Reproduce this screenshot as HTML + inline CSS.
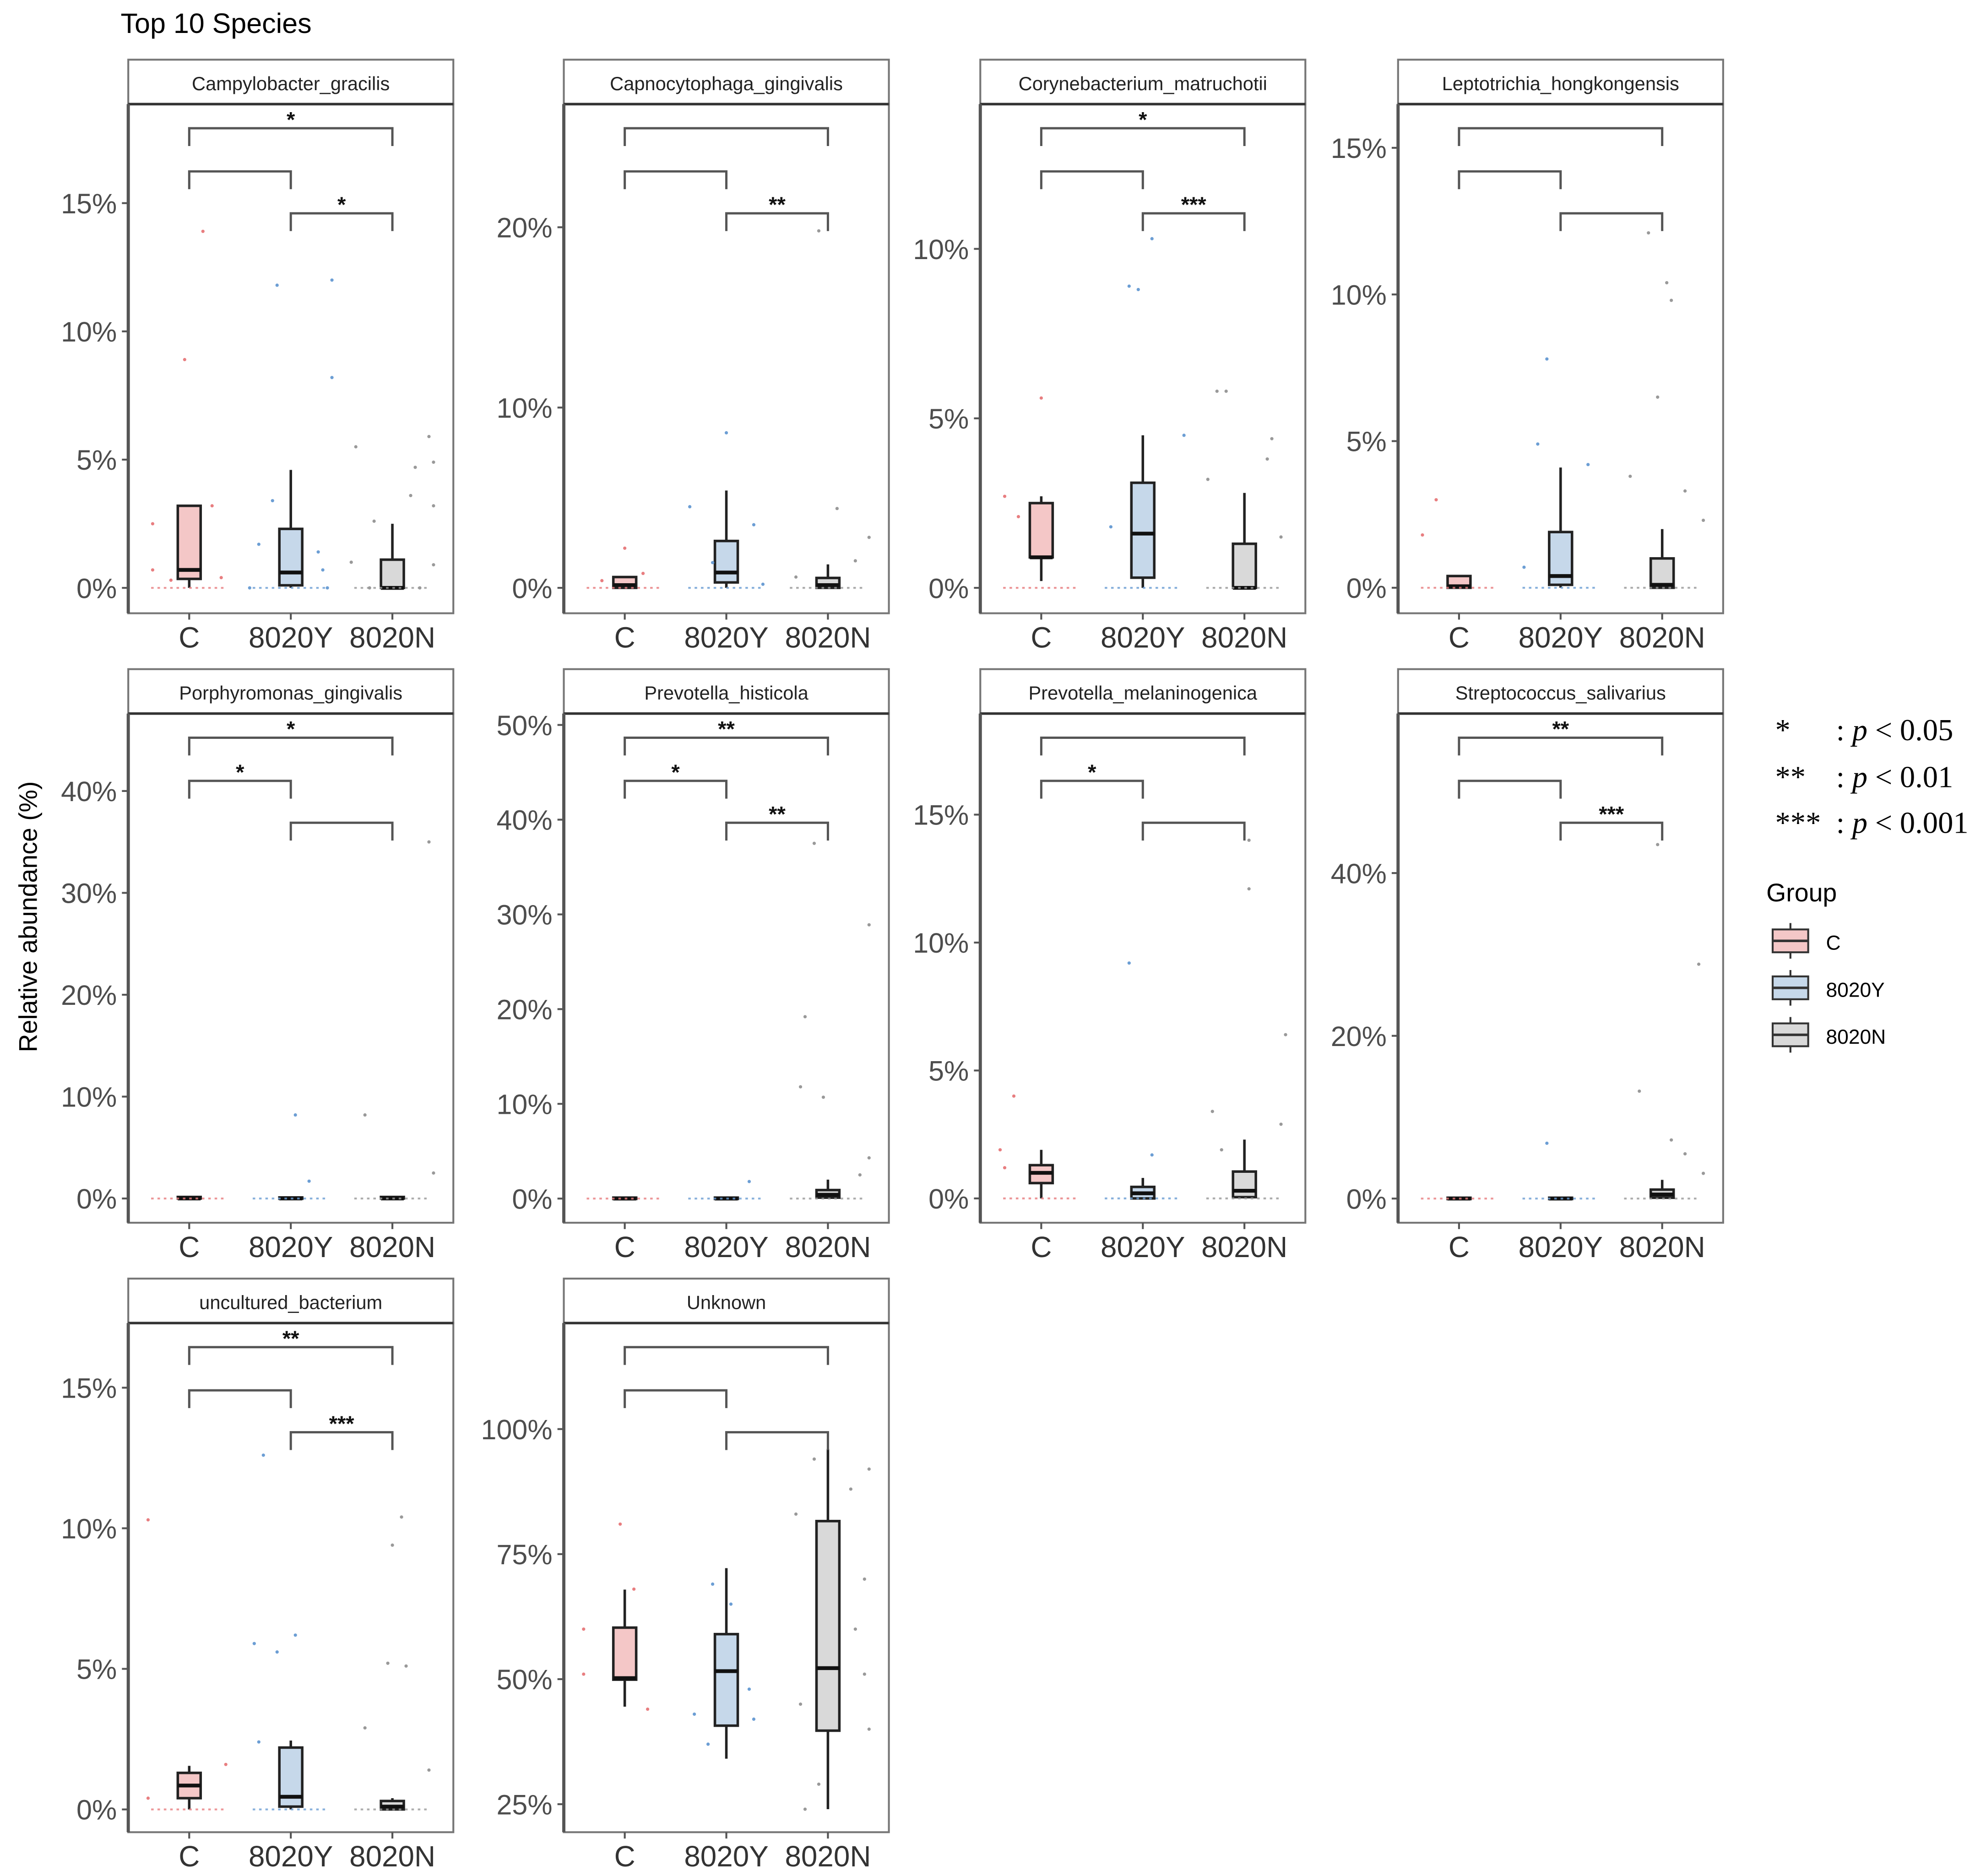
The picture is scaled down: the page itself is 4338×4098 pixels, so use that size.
<!DOCTYPE html>
<html><head><meta charset="utf-8"><style>
html,body{margin:0;padding:0;background:#fff;}
svg{display:block;}
.sans{font-family:"Liberation Sans",Arial,sans-serif;}
.serif{font-family:"Liberation Serif","Times New Roman",serif;}
</style></head><body>
<svg id="chart" class="sans" width="4338" height="4098" viewBox="0 0 1564 1477.5" xmlns="http://www.w3.org/2000/svg">
<text class="sans" x="95" y="26" font-size="22" fill="#000">Top 10 Species</text>
<text class="sans" transform="translate(29,722) rotate(-90)" text-anchor="middle" font-size="20" fill="#000">Relative abundance (%)</text>
<g id="panels"></g>
<g font-size="24" fill="#000">
<text class="serif" x="1398" y="583">*</text><text class="serif" x="1446" y="583">: <tspan font-style="italic">p</tspan> &lt; 0.05</text>
<text class="serif" x="1398" y="620">**</text><text class="serif" x="1446" y="620">: <tspan font-style="italic">p</tspan> &lt; 0.01</text>
<text class="serif" x="1398" y="656">***</text><text class="serif" x="1446" y="656">: <tspan font-style="italic">p</tspan> &lt; 0.001</text>
</g>
<g>
<text class="sans" x="1391" y="710" font-size="20" fill="#000">Group</text>
<g><line x1="1410" y1="727" x2="1410" y2="755" stroke="#333" stroke-width="1.5"/><rect x="1396" y="732" width="28" height="18" fill="#f4c7c7" stroke="#333" stroke-width="1.5"/><line x1="1396" y1="741" x2="1424" y2="741" stroke="#333" stroke-width="2"/><text class="sans" x="1438" y="748" font-size="16">C</text></g>
<g><line x1="1410" y1="764" x2="1410" y2="792" stroke="#333" stroke-width="1.5"/><rect x="1396" y="769" width="28" height="18" fill="#c6d8ea" stroke="#333" stroke-width="1.5"/><line x1="1396" y1="778" x2="1424" y2="778" stroke="#333" stroke-width="2"/><text class="sans" x="1438" y="785" font-size="16">8020Y</text></g>
<g><line x1="1410" y1="801" x2="1410" y2="829" stroke="#333" stroke-width="1.5"/><rect x="1396" y="806" width="28" height="18" fill="#d9d9d9" stroke="#333" stroke-width="1.5"/><line x1="1396" y1="815" x2="1424" y2="815" stroke="#333" stroke-width="2"/><text class="sans" x="1438" y="822" font-size="16">8020N</text></g>
</g>
</svg>
<script>
const species = ["Campylobacter_gracilis","Capnocytophaga_gingivalis","Corynebacterium_matruchotii","Leptotrichia_hongkongensis","Porphyromonas_gingivalis","Prevotella_histicola","Prevotella_melaninogenica","Streptococcus_salivarius","uncultured_bacterium","Unknown"];
const groups = ["C","8020Y","8020N"];
const yTicks = [[0,5,10,15],[0,10,20],[0,5,10],[0,5,10,15],[0,10,20,30,40],[0,10,20,30,40,50],[0,5,10,15],[0,20,40],[0,5,10,15],[25,50,75,100]];
const yRange = [[-0.99,18.86],[-1.41,26.83],[-0.75,14.27],[-0.87,16.49],[-2.38,47.6],[-2.55,51.2],[-0.95,18.95],[-2.97,59.6],[-0.81,17.3],[19.4,121.2]];
// box stats: [lowWhisker, q1, median, q3, highWhisker] per group
const boxC = [[0,0.35,0.7,3.2,3.2],[0,0,0.15,0.6,0.6],[0.2,0.9,0.9,2.5,2.7],[0,0,0.05,0.4,0.4],[0,0,0,0.15,0.15],[0,0,0,0.1,0.1],[0,0.6,1.0,1.3,1.9],[0,0,0,0.1,0.1],[0,0.4,0.85,1.3,1.55],[44.5,49.9,50.2,60.3,67.9]];
const boxY = [[0,0.1,0.6,2.3,4.6],[0,0.3,0.85,2.6,5.4],[0,0.3,1.6,3.1,4.5],[0,0.1,0.4,1.9,4.1],[0,0,0,0.1,0.1],[0,0,0,0.1,0.1],[0,0,0.2,0.45,0.8],[0,0,0,0.1,0.1],[0,0.1,0.45,2.2,2.45],[34.1,40.7,51.6,59,72.2]];
const boxN = [[0,0,0,1.1,2.5],[0,0,0.15,0.55,1.3],[0,0,0,1.3,2.8],[0,0,0.1,1.0,2.0],[0,0,0,0.15,0.15],[0,0.1,0.4,0.9,2.0],[0,0.05,0.3,1.05,2.3],[0,0.1,0.5,1.1,2.3],[0,0,0.1,0.3,0.4],[24,39.7,52.2,81.6,96]];
// jitter points: [groupIndex, offset(-1..1), value]
const ptsData = [
 [[0,0.3,13.9],[0,-0.1,8.9],[0,-0.8,2.5],[0,-0.8,0.7],[0,0.7,0.4],[0,-0.4,0.3],[0,0.5,3.2],[1,-0.3,11.8],[1,0.9,12.0],[1,0.9,8.2],[1,-0.7,1.7],[1,0.6,1.4],[1,-0.4,3.4],[1,0.7,0.7],[1,-0.9,0],[1,0.8,0],[2,-0.8,5.5],[2,0.8,5.9],[2,0.5,4.7],[2,0.9,4.9],[2,0.4,3.6],[2,0.9,3.2],[2,-0.4,2.6],[2,-0.9,1.0],[2,0.9,0.9],[2,-0.5,0],[2,0.6,0]],
 [[0,0,2.2],[0,-0.5,0.4],[0,0.4,0.8],[1,0,8.6],[1,-0.8,4.5],[1,0.6,3.5],[1,-0.3,1.4],[1,0.8,0.2],[2,-0.2,19.8],[2,0.2,4.4],[2,0.9,2.8],[2,-0.7,0.6],[2,0.6,1.5]],
 [[0,0,5.6],[0,-0.8,2.7],[0,-0.5,2.1],[1,-0.3,8.9],[1,-0.1,8.8],[1,0.2,10.3],[1,-0.7,1.8],[1,0.9,4.5],[2,-0.6,5.8],[2,-0.4,5.8],[2,0.6,4.4],[2,0.5,3.8],[2,-0.8,3.2],[2,0.8,1.5]],
 [[0,-0.5,3.0],[0,-0.8,1.8],[1,-0.3,7.8],[1,-0.5,4.9],[1,0.6,4.2],[1,-0.8,0.7],[2,-0.3,12.1],[2,0.1,10.4],[2,0.2,9.8],[2,-0.1,6.5],[2,0.5,3.3],[2,-0.7,3.8],[2,0.9,2.3]],
 [[1,0.1,8.2],[1,0.4,1.7],[2,-0.6,8.2],[2,0.8,35],[2,0.9,2.5]],
 [[1,0.5,1.8],[2,-0.3,37.5],[2,-0.5,19.2],[2,-0.6,11.8],[2,-0.1,10.7],[2,0.9,28.9],[2,0.9,4.3],[2,0.7,2.5]],
 [[0,-0.6,4.0],[0,-0.9,1.9],[0,-0.8,1.2],[1,-0.3,9.2],[1,0.2,1.7],[2,-0.7,3.4],[2,0.1,14.0],[2,0.1,12.1],[2,0.9,6.4],[2,0.8,2.9],[2,-0.5,1.9]],
 [[1,-0.3,6.8],[2,-0.1,43.5],[2,-0.5,13.2],[2,0.8,28.8],[2,0.2,7.2],[2,0.5,5.5],[2,0.9,3.1]],
 [[0,-0.9,10.3],[0,0.8,1.6],[0,-0.9,0.4],[1,-0.6,12.6],[1,-0.8,5.9],[1,-0.3,5.6],[1,0.1,6.2],[1,-0.7,2.4],[2,0.2,10.4],[2,0.0,9.4],[2,-0.1,5.2],[2,0.3,5.1],[2,-0.6,2.9],[2,0.8,1.4]],
 [[0,-0.9,60],[0,-0.1,81],[0,-0.9,51],[0,0.5,44],[0,0.2,68],[1,-0.7,43],[1,0.5,48],[1,-0.4,37],[1,0.1,65],[1,-0.3,69],[1,0.6,42],[2,-0.3,94],[2,0.9,92],[2,0.5,88],[2,-0.7,83],[2,0.8,70],[2,-0.6,45],[2,-0.2,29],[2,0.9,40],[2,-0.5,24],[2,0.6,60],[2,0.8,51]]
];
// significance labels: [C-vs-8020N (top), C-vs-8020Y, 8020Y-vs-8020N]
const sigTop = ["*","","*","","*","**","","**","**",""];
const sigCY = ["","","","","*","*","*","","",""];
const sigYN = ["*","**","***","","","**","","***","***",""];

const colX = [101,444,772,1101];
const rowY = [47,527,1007];
const PW = 256, STRIP = 35, PH = 401;
const fills = ["#f4c7c7","#c6d8ea","#d9d9d9"];
const ptCols = ["#e87e80","#6c9ed4","#999999"];
const NS = "http://www.w3.org/2000/svg";
const root = document.getElementById("panels");
function mk(tag, attrs, parent){const e=document.createElementNS(NS,tag);for(const k in attrs)e.setAttribute(k,attrs[k]);parent.appendChild(e);return e;}

species.forEach((sp,i)=>{
  const px = colX[i%4], py = rowY[Math.floor(i/4)];
  const top = py+STRIP, bot = top+PH;
  const [lo,hi] = yRange[i];
  const yS = v => bot - (v-lo)/(hi-lo)*PH;
  const xS = g => px + 48 + g*80;
  const g = mk("g",{},root);
  
  
  const strip = mk("rect",{x:px,y:py,width:PW,height:STRIP,fill:"#fff",stroke:"#777","stroke-width":1.5},g);
  
  
  const st = mk("text",{x:px+PW/2,y:py+24,"text-anchor":"middle","font-size":15,fill:"#222"},g);
  st.textContent = sp;
  
  
  const frame = mk("rect",{x:px,y:top,width:PW,height:PH,fill:"#fff",stroke:"#777","stroke-width":1.5},g);
  
  
  mk("line",{x1:px,y1:top,x2:px+PW,y2:top,stroke:"#333","stroke-width":2},g);
  mk("line",{x1:px,y1:top,x2:px,y2:bot,stroke:"#555","stroke-width":2.5},g);
  yTicks[i].forEach(t=>{
    const y=yS(t);
    mk("line",{x1:px-5,y1:y,x2:px,y2:y,stroke:"#555","stroke-width":1.5},g);
    const tl=mk("text",{x:px-9,y:y+8,"text-anchor":"end","font-size":22,fill:"#4d4d4d"},g);
    tl.textContent=t+"%";
    
    
  });
  groups.forEach((gr,k)=>{
    const x=xS(k);
    mk("line",{x1:x,y1:bot,x2:x,y2:bot+5,stroke:"#555","stroke-width":1.5},g);
    const xl=mk("text",{x:x,y:bot+27,"text-anchor":"middle","font-size":23,fill:"#333"},g);
    xl.textContent=gr;
    
    
  });
  [boxC,boxY,boxN].forEach((bx,k)=>{
    const [wl,q1,md,q3,wh]=bx[i]; const x=xS(k);
    const bg=mk("g",{},g);
    
    
    mk("line",{x1:x,y1:yS(wl),x2:x,y2:yS(wh),stroke:"#222","stroke-width":2},bg);
    mk("rect",{x:x-9,y:yS(q3),width:18,height:Math.max(yS(q1)-yS(q3),1),fill:fills[k],stroke:"#222","stroke-width":2},bg);
    mk("line",{x1:x-9,y1:yS(md),x2:x+9,y2:yS(md),stroke:"#111","stroke-width":3},bg);
  });
  ptsData[i].forEach(p=>{
    const c=mk("circle",{cx:xS(p[0])+p[1]*36,cy:yS(p[2]),r:1.3,fill:ptCols[p[0]]},g);
    
    
  });
  if(i!==9){
    for(let k=0;k<3;k++){
      const base=mk("line",{x1:xS(k)-30,y1:yS(0),x2:xS(k)+30,y2:yS(0),stroke:ptCols[k],"stroke-width":1.5,"stroke-dasharray":"2 3",opacity:0.8},g);
      
      
    }
  }
  const br = [[0,2,top+19,sigTop[i]],[0,1,top+53,sigCY[i]],[1,2,top+86,sigYN[i]]];
  br.forEach(b=>{
    const x1=xS(b[0]),x2=xS(b[1]),y=b[2];
    const pth=mk("path",{d:`M${x1},${y+14}V${y}H${x2}V${y+14}`,fill:"none",stroke:"#555","stroke-width":1.8},g);
    
    
    if(b[3]){
      const s=mk("text",{x:(x1+x2)/2,y:y-1,"text-anchor":"middle","font-size":17,fill:"#111","font-weight":"bold"},g);
      s.textContent=b[3];
      
      
    }
  });
});
</script>
</body></html>
